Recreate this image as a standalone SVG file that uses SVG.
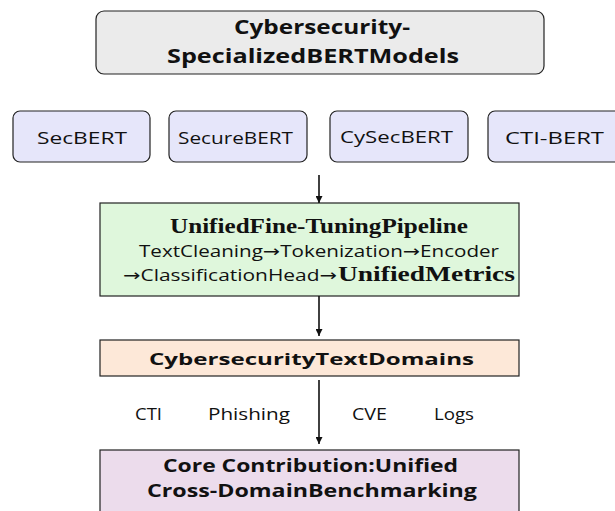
<svg xmlns="http://www.w3.org/2000/svg" width="615" height="511" viewBox="0 0 615 511">
<defs>
<style>
.box{stroke:#222;stroke-width:1.2}
.sans{font-family:"Open Sans","Liberation Sans",sans-serif;fill:#111}
.b{font-weight:bold}
.serif{font-family:"Liberation Serif","Times New Roman",serif;font-weight:bold;fill:#111}
.ar{font-family:"DejaVu Sans",sans-serif;font-weight:normal}
.conn{stroke:#111;stroke-width:1.6;fill:none}
</style>
<marker id="ah" viewBox="0 0 10 10" refX="10" refY="5" markerWidth="7" markerHeight="7" markerUnits="userSpaceOnUse" orient="auto">
<path d="M0,0 L10,5 L0,10 z" fill="#111"/>
</marker>
</defs>
<rect width="615" height="511" fill="#fff"/>
<g id="title">
<rect class="box" x="96" y="11" width="448" height="63" rx="8" fill="#ebebeb"/>
<text class="sans b" x="234" y="34" font-size="20" textLength="176" lengthAdjust="spacingAndGlyphs">Cybersecurity-</text>
<text class="sans b" x="167" y="63" font-size="20" textLength="292" lengthAdjust="spacingAndGlyphs">SpecializedBERTModels</text>
</g>
<g id="secbert">
<rect class="box" x="13" y="111" width="137" height="51" rx="7" fill="#e6e6fa"/>
<text class="sans" x="37" y="144" font-size="17" textLength="90" lengthAdjust="spacingAndGlyphs">SecBERT</text>
</g>
<g id="securebert">
<rect class="box" x="169" y="111" width="138" height="51" rx="7" fill="#e6e6fa"/>
<text class="sans" x="178" y="144" font-size="17" textLength="115" lengthAdjust="spacingAndGlyphs">SecureBERT</text>
</g>
<g id="cysecbert">
<rect class="box" x="330" y="111" width="138" height="51" rx="7" fill="#e6e6fa"/>
<text class="sans" x="340" y="142.5" font-size="17" textLength="113" lengthAdjust="spacingAndGlyphs">CySecBERT</text>
</g>
<g id="ctibert">
<rect class="box" x="488" y="111" width="134" height="51" rx="7" fill="#e6e6fa"/>
<text class="sans" x="505" y="144" font-size="17" textLength="99" lengthAdjust="spacingAndGlyphs">CTI-BERT</text>
</g>
<g id="pipeline">
<rect class="box" x="100" y="203" width="419" height="93" fill="#dff7dc"/>
<text class="serif" x="170" y="233" font-size="20" textLength="298" lengthAdjust="spacingAndGlyphs">UnifiedFine-TuningPipeline</text>
<text class="sans" x="139" y="257" font-size="16" textLength="360" lengthAdjust="spacingAndGlyphs">TextCleaning<tspan class="ar">→</tspan>Tokenization<tspan class="ar">→</tspan>Encoder</text>
<text class="sans" x="123" y="281" font-size="16" textLength="214" lengthAdjust="spacingAndGlyphs"><tspan class="ar">→</tspan>ClassificationHead<tspan class="ar">→</tspan></text>
<text class="serif" x="338" y="281" font-size="20" textLength="177" lengthAdjust="spacingAndGlyphs">UnifiedMetrics</text>
</g>
<g id="domains">
<rect class="box" x="100" y="340" width="419" height="36" fill="#fde8d8"/>
<text class="sans b" x="149" y="365" font-size="16.5" textLength="325" lengthAdjust="spacingAndGlyphs">CybersecurityTextDomains</text>
</g>
<g id="labels">
<text class="sans" x="135" y="420" font-size="16.5" textLength="27" lengthAdjust="spacingAndGlyphs">CTI</text>
<text class="sans" x="208" y="420" font-size="16.5" textLength="82" lengthAdjust="spacingAndGlyphs">Phishing</text>
<text class="sans" x="352" y="420" font-size="16.5" textLength="35" lengthAdjust="spacingAndGlyphs">CVE</text>
<text class="sans" x="434" y="420" font-size="16.5" textLength="40" lengthAdjust="spacingAndGlyphs">Logs</text>
</g>
<g id="contribution">
<rect class="box" x="100" y="450" width="419" height="70" fill="#ecdcec"/>
<text class="sans b" x="163" y="472" font-size="18" textLength="295" lengthAdjust="spacingAndGlyphs">Core Contribution:Unified</text>
<text class="sans b" x="147" y="497" font-size="18" textLength="330" lengthAdjust="spacingAndGlyphs">Cross-DomainBenchmarking</text>
</g>
<g id="connectors">
<line class="conn" x1="319" y1="175" x2="319" y2="203" marker-end="url(#ah)"/>
<line class="conn" x1="319" y1="296" x2="319" y2="336" marker-end="url(#ah)"/>
<line class="conn" x1="319" y1="380" x2="319" y2="444" marker-end="url(#ah)"/>
</g>
</svg>
